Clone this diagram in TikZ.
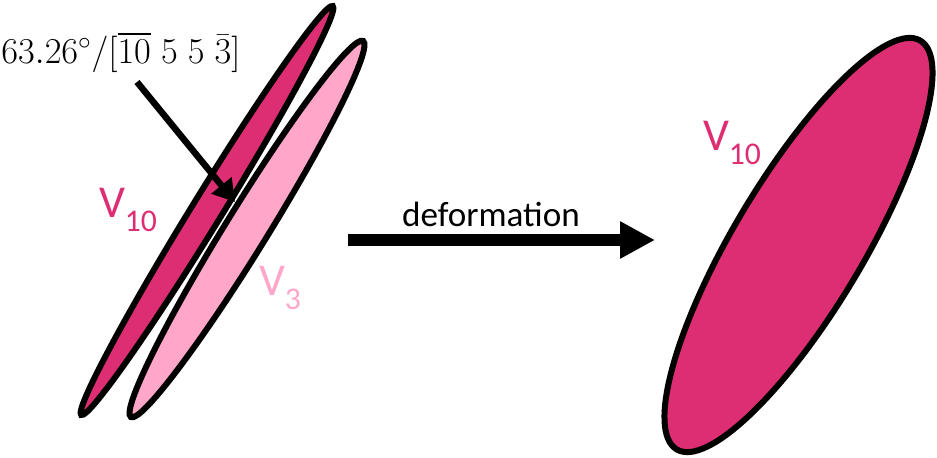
\documentclass[tikz,border=0pt]{standalone}
\usepackage{amsmath,amssymb}
\usepackage{fontspec}
\usepackage{tikz}
\usetikzlibrary{positioning,arrows.meta,shapes.geometric}
\newfontfamily\labelfont{Carlito}
\definecolor{GrainDark}{HTML}{DE2E73}
\definecolor{GrainLight}{HTML}{FFA6C9}
\newcommand{\varlabel}[1]{V\raisebox{-0.3em}{\fontsize{18}{20}\selectfont #1}}

\begin{document}
\begin{tikzpicture}[x=0.02cm,y=0.02cm,
    grain/.style={draw=black, line width=0.12cm, ellipse, inner sep=0pt},
    varname/.style={font=\labelfont\fontsize{26}{30}\selectfont}]
  \useasboundingbox (0,0) rectangle (937,457);
  % twin variants before deformation
  \node[grain, fill=GrainDark, minimum width=9.6cm, minimum height=0.6cm,
        rotate=58.4] (v10) at (207,246.5) {};
  \node[grain, fill=GrainLight, minimum width=8.84cm, minimum height=0.84cm,
        rotate=58.3] (v3) at (247,228) {};
  % single variant after deformation
  \node[grain, fill=GrainDark, minimum width=9.52cm, minimum height=2.6cm,
        rotate=59.2] (v10d) at (798.5,212) {};

  \node[varname, text=GrainDark] (l10) at (128,247) {\varlabel{10}};
  \node[varname, text=GrainLight] (l3) at (280,169) {\varlabel{3}};
  \node[varname, text=GrainDark] (l10d) at (732,314) {\varlabel{10}};

  % misorientation label
  \node[font=\fontsize{22}{26}\selectfont] (mis) at (121,405)
    {$63.26^\circ/[\overline{10}\;5\;5\;\bar{3}]$};
  \coordinate (pin) at (137,375);
  \coordinate (tip) at (235,255);
  \draw[line width=0.13cm, -{Triangle[length=0.43cm,width=0.5cm]}] (pin) -- (tip);

  % deformation arrow
  \coordinate (defs) at (348,217);
  \coordinate (defe) at (655,217);
  \draw[line width=0.24cm, -{Triangle[length=0.7cm,width=0.7cm]}] (defs) -- (defe);
  \node[font=\labelfont\fontsize{20}{24}\selectfont] (def) at (491,243) {deformation};
\end{tikzpicture}
\end{document}
